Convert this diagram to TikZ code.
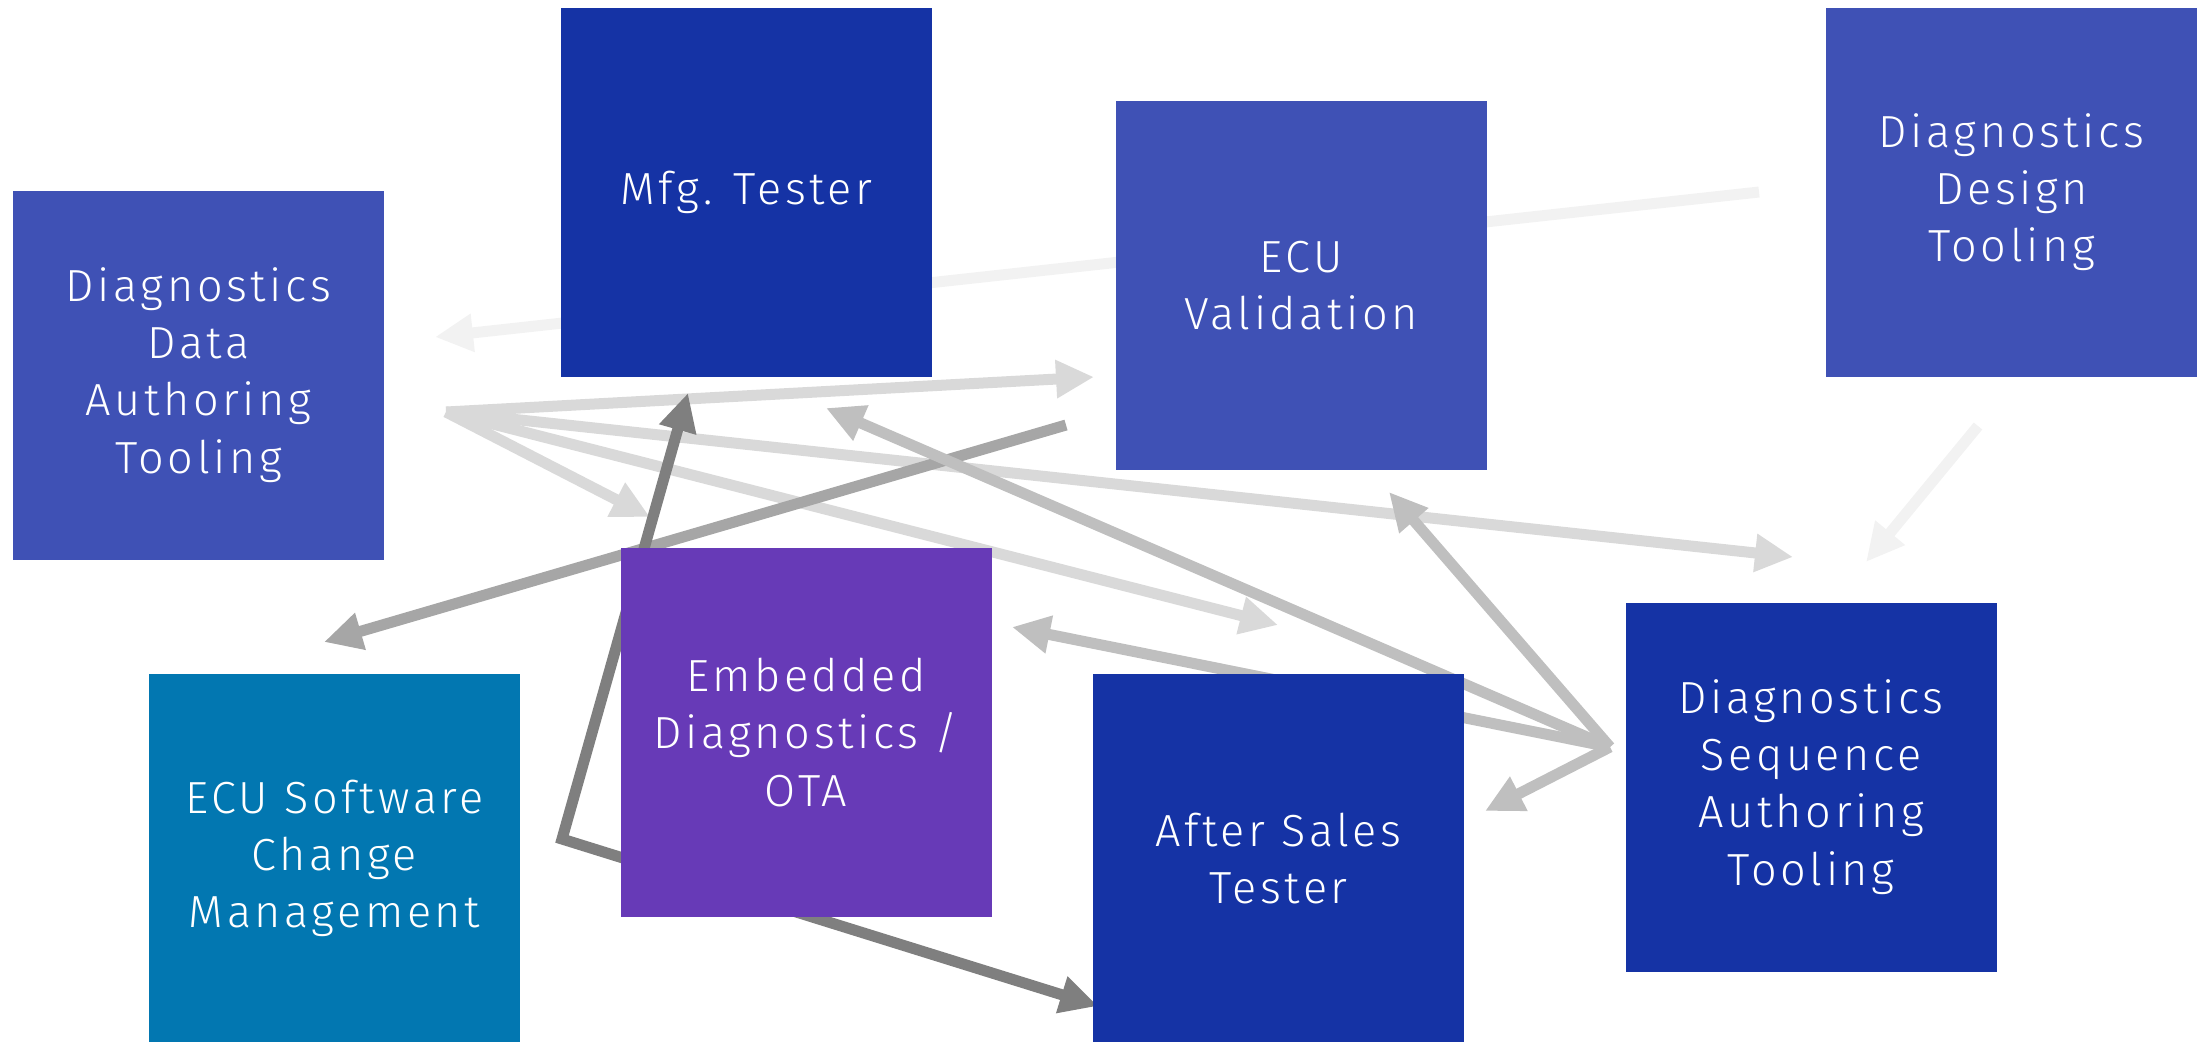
\documentclass[tikz,border=0pt]{standalone}
\usepackage{fontspec}
\setmainfont{Fira Sans Light}[LetterSpace=8]
\usetikzlibrary{arrows.meta,positioning,backgrounds}

\definecolor{boxindigo}{HTML}{3F51B5}
\definecolor{boxnavy}{HTML}{1533A5}
\definecolor{boxviolet}{HTML}{673AB7}
\definecolor{boxteal}{HTML}{0277B1}
\definecolor{flowfaint}{HTML}{F2F2F2}
\definecolor{flowlight}{HTML}{D9D9D9}
\definecolor{flowmid}{HTML}{BFBFBF}
\definecolor{flowgrey}{HTML}{A6A6A6}
\definecolor{flowdark}{HTML}{7F7F7F}

\begin{document}
\begin{tikzpicture}[x=1cm,y=-1cm,>={Triangle[length=3.8mm,width=3.6mm]},
	box/.style={rectangle,fill=#1,text=white,minimum width=3.71cm,minimum height=3.69cm,
		inner sep=0pt,align=center,font=\fontsize{12.8}{16.3}\selectfont},
	link/.style={draw=#1,line width=1.1mm}]
	\useasboundingbox (0,0) rectangle (21.98,10.41);

	% tools and testers
	\node[box=boxindigo] (dataauth) at (1.985,3.75) {Diagnostics\\Data\\Authoring\\Tooling};
	\node[box=boxnavy] (mfg) at (7.465,1.92) {Mfg. Tester};
	\node[box=boxindigo] (ecuval) at (13.01,2.855) {ECU\\Validation};
	\node[box=boxindigo] (design) at (20.115,1.92) {Diagnostics\\Design\\Tooling};
	\node[box=boxviolet] (embedded) at (8.06,7.325) {Embedded\\Diagnostics /\\OTA};
	\node[box=boxteal] (swchange) at (3.345,8.585) {ECU Software\\Change\\Management};
	\node[box=boxnavy] (aftersales) at (12.785,8.585) {After Sales\\Tester};
	\node[box=boxnavy] (sequence) at (18.11,7.87) {Diagnostics\\Sequence\\Authoring\\Tooling};

	\begin{pgfonlayer}{background}
		% end points of the flows
		\coordinate (designleft) at (17.59,1.92);
		\coordinate (dataright) at (4.35,3.37);
		\coordinate (designbelow) at (19.78,4.26);
		\coordinate (seqabove) at (18.66,5.62);
		\coordinate (datahub) at (4.46,4.12);
		\coordinate (valleft) at (10.94,3.77);
		\coordinate (embabove) at (6.50,5.17);
		\coordinate (asabove) at (12.78,6.25);
		\coordinate (seqleft) at (17.93,5.57);
		\coordinate (valbelow) at (10.66,4.25);
		\coordinate (swabove) at (3.24,6.42);
		\coordinate (seqhub) at (16.10,7.47);
		\coordinate (mfgbelow) at (8.26,4.08);
		\coordinate (embright) at (10.12,6.27);
		\coordinate (valcorner) at (13.89,4.92);
		\coordinate (asright) at (14.85,8.11);
		\coordinate (mfgtip) at (6.88,3.93);
		\coordinate (bend) at (5.62,8.39);
		\coordinate (asleft) at (10.98,10.06);

		\path[->]
			(designleft) edge[link=flowfaint] (dataright)
			(designbelow) edge[link=flowfaint] (seqabove);
		\path[->]
			(datahub) edge[link=flowlight] (valleft)
			(datahub) edge[link=flowlight] (embabove)
			(datahub) edge[link=flowlight] (asabove)
			(datahub) edge[link=flowlight] (seqleft);
		\path[->]
			(valbelow) edge[link=flowgrey] (swabove);
		\path[->]
			(seqhub) edge[link=flowmid] (mfgbelow)
			(seqhub) edge[link=flowmid] (embright)
			(seqhub) edge[link=flowmid] (valcorner)
			(seqhub) edge[link=flowmid] (asright);
		\draw[<->,link=flowdark] (mfgtip) -- (bend) -- (asleft);
	\end{pgfonlayer}
\end{tikzpicture}
\end{document}
